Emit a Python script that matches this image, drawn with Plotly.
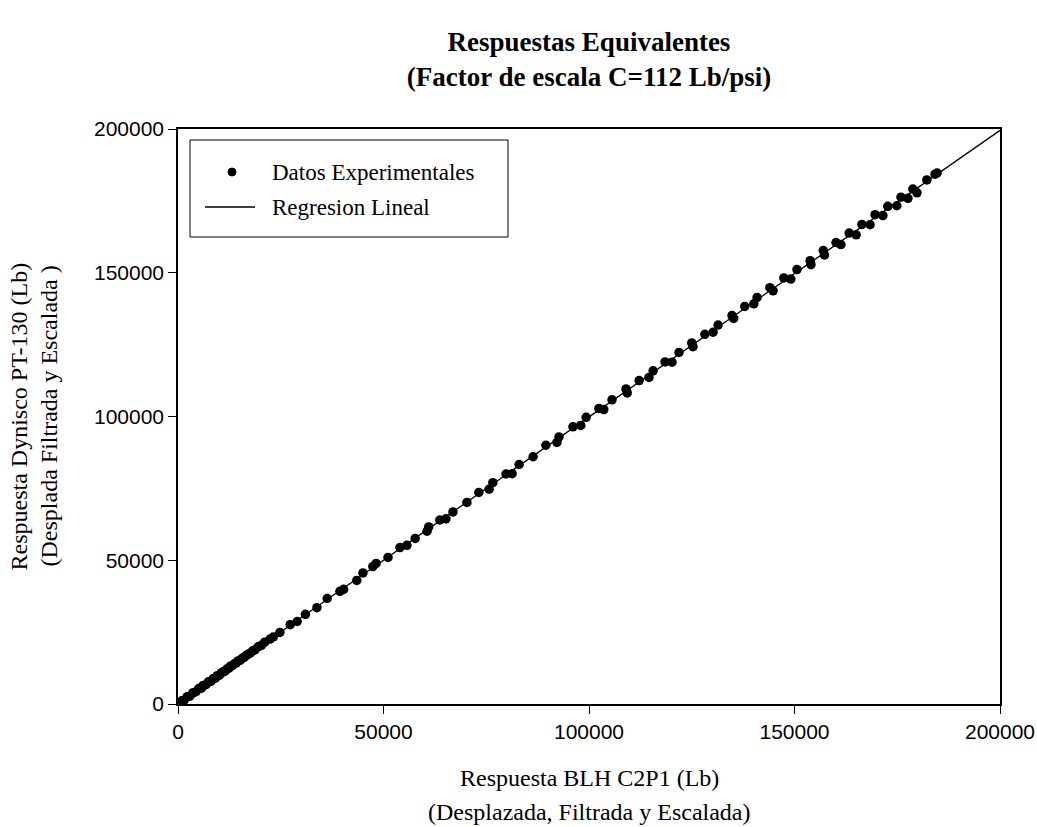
import numpy as np
import plotly.graph_objects as go

# Respuesta BLH C2P1 (Lb) - desplazada, filtrada y escalada
blh_c2p1 = [
    0, 400, 900, 1500, 2200, 2900, 3600, 4400, 5100, 5700,
    6100, 6800, 7400, 8000, 8600, 9100, 9500, 10100, 10600, 11000,
    11500, 12000, 12400, 12700, 13200, 13700, 14200, 14600, 15100, 15600,
    16100, 16600, 17000, 17500, 18100, 18700, 19500, 20300, 21100, 22400,
    23200, 24800,
    27300, 29000, 31000, 33800, 36300, 39400, 40300, 43500, 45000, 47400,
    48200, 51100, 54000, 55700, 57700, 60600, 61000, 63700, 65200, 66900,
    70300, 73200, 75700, 76600, 79800, 81300, 83000, 86400, 89500, 92200,
    92700, 96100, 98000, 99300, 102400, 103600, 105600, 109000, 109300, 112200,
    114600, 115600, 118500, 120200, 121900, 125000, 125300, 128200, 130200, 131400,
    134800, 135200, 137900, 140100, 140900, 144000, 144800, 147400, 149100, 150600,
    153800, 154000, 157000, 157300, 160100, 161300, 163300, 165000, 166400, 168400,
    169600, 171500, 172700, 174900, 175900, 177600, 178800, 179800, 182200, 184200,
    184700,
]

# Respuesta Dynisco PT-130 (Lb) - desplazada, filtrada y escalada
dynisco_pt130 = [
    300, 200, 1100, 1300, 2500, 2700, 3900, 4300, 5400, 5500,
    6400, 6700, 7700, 7900, 8900, 9000, 9800, 10000, 10900, 11200,
    11500, 12300, 12500, 13100, 13300, 14000, 14300, 15000, 15200, 15900,
    16200, 16900, 17300, 17600, 18400, 18800, 19900, 20400, 21500, 22600,
    23300, 24900,
    27600, 28700, 31200, 33500, 36700, 39200, 39900, 43000, 45600, 47800,
    48900, 51000, 54400, 55200, 57600, 60100, 61600, 64000, 64400, 66800,
    70100, 73600, 74700, 77000, 80000, 80100, 83300, 86000, 90000, 91000,
    92900, 96400, 96900, 99700, 102800, 102400, 105800, 109600, 108200, 112500,
    113600, 115900, 119000, 118900, 122300, 125600, 124300, 128600, 129300, 131800,
    135100, 134100, 138300, 139200, 141400, 144800, 143700, 148200, 147800, 151100,
    154200, 152800, 157700, 156200, 160500, 159800, 163800, 163200, 166800, 166700,
    170200, 169900, 173100, 173300, 176300, 175900, 179100, 177800, 182300, 184300,
    184700,
]

axis_range = [0, 200000]
tick_values = [0, 50000, 100000, 150000, 200000]

# Linear regression of Dynisco response against BLH response
slope, intercept = np.polyfit(blh_c2p1, dynisco_pt130, 1)
fit_x = np.array(axis_range, dtype=float)
fit_y = slope * fit_x + intercept

serif = "Liberation Serif, Times New Roman, serif"
sans = "Liberation Sans Narrow, Arial Narrow, Liberation Sans, Arial, sans-serif"

fig = go.Figure()
fig.add_trace(go.Scatter(
    x=fit_x, y=fit_y, mode="lines", name="Regresion Lineal",
    line=dict(color="black", width=1.3), showlegend=False,
))
fig.add_trace(go.Scatter(
    x=blh_c2p1, y=dynisco_pt130, mode="markers", name="Datos Experimentales",
    marker=dict(color="black", size=9.5, line=dict(width=0)), showlegend=False,
))

axis_common = dict(
    range=axis_range, tickvals=tick_values, tickformat="d", automargin=False,
    showgrid=False, zeroline=False, showline=True, linecolor="black",
    linewidth=1.5, mirror=True, ticks="outside", ticklen=8, tickwidth=1.2,
    tickcolor="black", tickfont=dict(family=sans, size=21, color="black"),
)

fig.update_layout(
    width=1037, height=827,
    margin=dict(l=178, r=37, t=129, b=123),
    paper_bgcolor="white", plot_bgcolor="white",
    xaxis=dict(**axis_common),
    yaxis=dict(**axis_common),
    title=dict(
        text="<b>Respuestas Equivalentes</b><br><b>(Factor de escala C=112 Lb/psi)</b>",
        x=589 / 1037, xanchor="center",
        y=1 - 51 / 827, yanchor="middle", yref="container",
        font=dict(family=serif, size=27, color="black"),
    ),
)

# Axis titles (two lines each)
text_font = dict(family=serif, size=24, color="black")
fig.add_annotation(text="Respuesta BLH C2P1 (Lb)", xref="paper", yref="paper",
                   x=0.5, y=0, yshift=-74, xanchor="center", yanchor="middle",
                   showarrow=False, font=text_font)
fig.add_annotation(text="(Desplazada, Filtrada y Escalada)", xref="paper", yref="paper",
                   x=0.5, y=0, yshift=-108, xanchor="center", yanchor="middle",
                   showarrow=False, font=text_font)
fig.add_annotation(text="Respuesta Dynisco PT-130 (Lb)", xref="paper", yref="paper",
                   x=0, y=0.5, xshift=-160, xanchor="center", yanchor="middle",
                   textangle=-90, showarrow=False, font=text_font)
fig.add_annotation(text="(Desplada Filtrada y Escalada )", xref="paper", yref="paper",
                   x=0, y=0.5, xshift=-130, xanchor="center", yanchor="middle",
                   textangle=-90, showarrow=False, font=text_font)

# Legend box drawn in the upper-left corner of the plot area
legend_font = dict(family=serif, size=23, color="black")
fig.add_shape(type="rect", xref="paper", yref="paper",
              x0=12 / 822, x1=330 / 822, y0=1 - 108 / 575, y1=1 - 11 / 575,
              line=dict(color="black", width=1), fillcolor="white", layer="above")
fig.add_shape(type="circle", xref="paper", yref="paper",
              xsizemode="pixel", ysizemode="pixel",
              xanchor=54 / 822, yanchor=1 - 43 / 575,
              x0=-4, x1=4, y0=-4, y1=4,
              fillcolor="black", line=dict(color="black", width=1), layer="above")
fig.add_shape(type="line", xref="paper", yref="paper",
              x0=27 / 822, x1=77 / 822, y0=1 - 78 / 575, y1=1 - 78 / 575,
              line=dict(color="black", width=1.3), layer="above")
fig.add_annotation(text="Datos Experimentales", xref="paper", yref="paper",
                   x=92 / 822, y=1 - 43 / 575, xanchor="left", yanchor="middle",
                   showarrow=False, font=legend_font)
fig.add_annotation(text="Regresion Lineal", xref="paper", yref="paper",
                   x=92 / 822, y=1 - 78 / 575, xanchor="left", yanchor="middle",
                   showarrow=False, font=legend_font)

fig.write_html("out.html")
